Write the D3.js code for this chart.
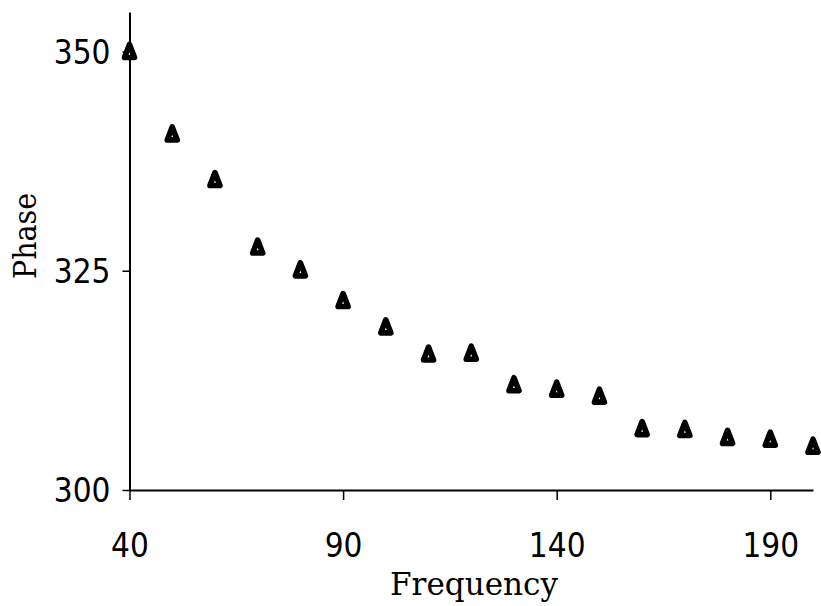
<!DOCTYPE html>
<html>
<head>
<meta charset="utf-8">
<script src="https://cdn.jsdelivr.net/npm/d3@7"></script>
<style>
  body { margin: 0; background: #fff; }
  svg { display: block; }
  .tick text { font-family: "DejaVu Sans Condensed", "DejaVu Sans", sans-serif; font-stretch: condensed; }
</style>
</head>
<body>
<svg id="chart" width="821" height="606"></svg>
<script>
// frequency / phase readings
var frequency = [40, 50, 60, 70, 80, 90, 100, 110, 120, 130, 140, 150, 160, 170, 180, 190, 200];
var phase = [350, 340.6, 335.4, 327.7, 325.1, 321.6, 318.6, 315.5, 315.6, 312.0, 311.5, 310.7, 307.0, 306.9, 306.0, 305.8, 305.0];
var xTicks = [40, 90, 140, 190];
var yTicks = [300, 325, 350];

var points = frequency.map((f, i) => ({ x: f, y: phase[i] }));

const svg = d3.select("#chart");

const x = d3.scaleLinear().domain([40, 200]).range([129.5, 813]);
const y = d3.scaleLinear().domain([300, 354.5]).range([490, 12]);

// x axis
const xAxis = svg.append("g")
  .attr("transform", "translate(0,490)")
  .call(d3.axisBottom(x).tickValues(xTicks).tickSize(10).tickSizeOuter(0));
xAxis.select(".domain").attr("stroke-width", 2);
xAxis.selectAll(".tick line").attr("stroke-width", 1.5);
xAxis.selectAll(".tick text")
  .attr("font-size", 33)
  .attr("dy", 0)
  .attr("y", 67)
  .attr("fill", "#000");

// y axis
const yAxis = svg.append("g")
  .attr("transform", "translate(129.5,0)")
  .call(d3.axisLeft(y).tickValues(yTicks).tickSize(7).tickSizeOuter(0).tickPadding(12));
yAxis.select(".domain").attr("stroke-width", 2);
yAxis.selectAll(".tick line").attr("stroke-width", 1.5);
yAxis.selectAll(".tick text").attr("font-size", 33).attr("dy", "0.36em").attr("fill", "#000");

// triangle markers, thick outline leaves a small hole
const tri = "M0,-7L5,6L-5,6Z";
svg.append("g")
  .selectAll("path")
  .data(points)
  .enter()
  .append("path")
  .attr("d", tri)
  .attr("transform", d => `translate(${x(d.x)},${y(d.y)})`)
  .attr("fill", "#fff")
  .attr("stroke", "#000")
  .attr("stroke-width", 5.6)
  .attr("stroke-linejoin", "round");

// axis titles
svg.append("text")
  .attr("x", 474)
  .attr("y", 595)
  .attr("text-anchor", "middle")
  .attr("font-family", "'DejaVu Serif', 'Liberation Serif', serif")
  .attr("font-size", 32)
  .attr("textLength", 168)
  .attr("lengthAdjust", "spacingAndGlyphs")
  .text("Frequency");

svg.append("text")
  .attr("transform", "translate(36,236) rotate(-90)")
  .attr("text-anchor", "middle")
  .attr("font-family", "'DejaVu Serif', 'Liberation Serif', serif")
  .attr("font-size", 32)
  .attr("textLength", 86)
  .attr("lengthAdjust", "spacingAndGlyphs")
  .text("Phase");
</script>
</body>
</html>
